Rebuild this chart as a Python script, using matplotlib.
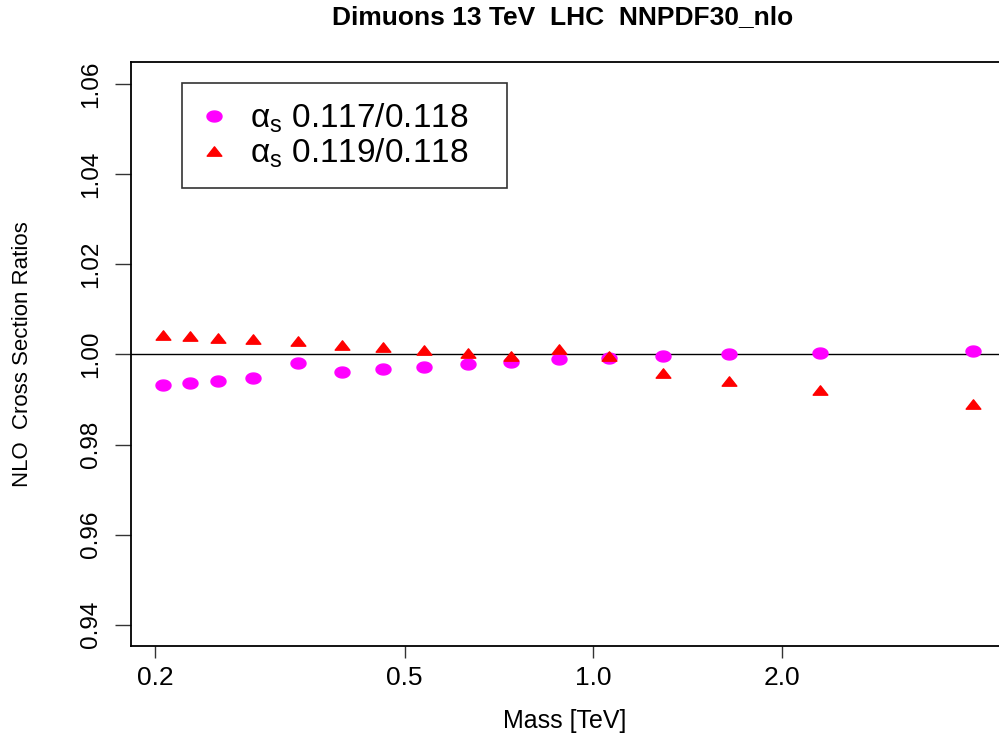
import numpy as np
import matplotlib
matplotlib.use('Agg')
from matplotlib import pyplot as plt
from matplotlib.path import Path
from matplotlib.lines import Line2D

plt.rcParams['font.family'] = ['Liberation Sans', 'DejaVu Sans']
plt.rcParams['mathtext.fontset'] = 'custom'
plt.rcParams['mathtext.rm'] = 'Liberation Sans'
plt.rcParams['mathtext.it'] = 'Liberation Sans:italic'

# dimuon mass bins [TeV] and cross section ratios
mass = [0.206, 0.2275, 0.252, 0.287, 0.338, 0.397, 0.462, 0.537,
        0.631, 0.739, 0.881, 1.06, 1.29, 1.645, 2.30, 4.04]
ratio_117 = [0.9933, 0.9936, 0.9942, 0.9947, 0.9981, 0.9962, 0.9967, 0.9973,
             0.9979, 0.9984, 0.9989, 0.9993, 0.9997, 1.0001, 1.0004, 1.0008]
ratio_119 = [1.0044, 1.0041, 1.0037, 1.0034, 1.0029, 1.0022, 1.0017, 1.0011,
             1.0004, 0.9996, 1.0012, 0.9997, 0.9958, 0.9942, 0.9921, 0.9889]
labels = ['α$_{\\rm s}$ 0.117/0.118   ', 'α$_{\\rm s}$ 0.119/0.118   ']
xticks = [0.2, 0.5, 1.0, 2.0]
xticklabels = ['0.2', '0.5', '1.0', '2.0']
yticks = [0.94, 0.96, 0.98, 1.00, 1.02, 1.04, 1.06]

# flattened markers (the original has non-square pixels)
t = np.linspace(0, 2 * np.pi, 60)
ellipse = Path(np.column_stack([np.cos(t), 0.73 * np.sin(t)]), closed=True)
triangle = Path([(-1, -0.635), (1, -0.635), (0, 0.635), (-1, -0.635)], closed=True)

fig = plt.figure(figsize=(9.99, 7.42), dpi=100)
ax = fig.add_axes([0.1308, 0.1294, 0.876, 0.787])

ax.axhline(1.0, color='black', lw=1.0, zorder=1)
ax.plot(mass, ratio_117, ls='none', marker=ellipse, ms=10.8,
        color='#ff00ff', mec='#ff00ff', zorder=3)
ax.plot(mass, ratio_119, ls='none', marker=triangle, ms=10.6,
        color='#ff0000', mec='#ff0000', zorder=3)

ax.set_xscale('log')
ax.set_xlim(10 ** -0.738, 10 ** 0.658)
ax.set_ylim(0.9353, 1.0649)
ax.set_xticks(xticks)
ax.set_xticklabels(xticklabels)
ax.xaxis.set_minor_locator(matplotlib.ticker.NullLocator())
ax.set_yticks(yticks)
ax.set_yticklabels(['%.2f' % v for v in yticks])

ax.tick_params(axis='x', direction='out', length=8.6, width=1.0, pad=6,
               labelsize=19, color='#333333')
ax.tick_params(axis='y', direction='out', length=11.3, width=1.0, pad=9,
               labelsize=17.5, color='#333333', labelrotation=90)
for lab in ax.get_yticklabels():
    lab.set_va('center')
for s in ax.spines.values():
    s.set_linewidth(1.3)

handles = [Line2D([], [], ls='none', marker=ellipse, ms=10.8, color='#ff00ff'),
           Line2D([], [], ls='none', marker=triangle, ms=10.6, color='#ff0000')]
leg = ax.legend(handles, labels, loc='upper left', bbox_to_anchor=(0.0583, 0.964),
                borderaxespad=0, fontsize=24, frameon=True, fancybox=False,
                handlelength=0.85, handletextpad=0.65, borderpad=0.55,
                labelspacing=0.05, edgecolor='black')
leg.get_frame().set_linewidth(1.2)

fig.text(563 / 999, 1 - 17 / 742, 'Dimuons 13 TeV  LHC  NNPDF30_nlo',
         ha='center', va='center', fontsize=19, fontweight='bold')
fig.text(565 / 999, 1 - 721 / 742, 'Mass [TeV]', ha='center', va='center',
         fontsize=18)
fig.text(22.5 / 999, 1 - 354 / 742, 'NLO  Cross Section Ratios', ha='center',
         va='center', rotation=90, fontsize=16)

fig.savefig('out.png', dpi=100)
